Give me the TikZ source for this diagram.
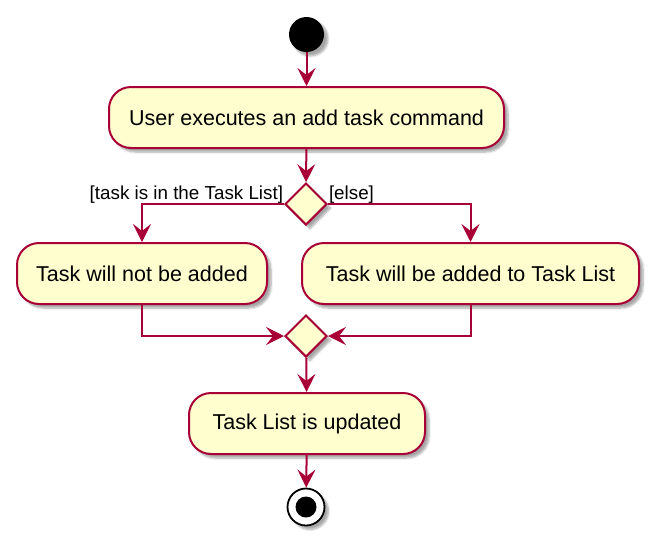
\documentclass[tikz,border=0pt]{standalone}
\usepackage{fontspec}
\setmainfont{Liberation Sans}
\usepackage{tikz}
\usetikzlibrary{shapes.geometric, arrows.meta, shadows.blur}

\definecolor{umlred}{HTML}{A80036}
\definecolor{umlfill}{HTML}{FEFECE}

\tikzset{
	umlshadow/.style={blur shadow={shadow xshift=4pt, shadow yshift=-4pt, shadow blur steps=6, shadow opacity=35}},
	action/.style={draw=umlred, fill=umlfill, line width=2pt, rounded corners=22pt, minimum height=61pt, inner sep=0pt, font=\fontsize{21.5}{26}\selectfont, umlshadow},
	branch/.style={diamond, draw=umlred, fill=umlfill, line width=2pt, minimum width=42pt, minimum height=42pt, inner sep=0pt, umlshadow},
	guard/.style={inner sep=0pt, font=\fontsize{18.8}{22}\selectfont},
	flow/.style={draw=umlred, line width=2pt, -{Stealth[length=18pt, width=18pt, inset=7pt]}},
	startdot/.style={circle, fill=black, minimum size=35pt, inner sep=0pt, umlshadow},
	stopdot/.style={circle, draw=black, fill=white, line width=1.8pt, minimum size=37pt, inner sep=0pt, umlshadow}
}

\begin{document}
\begin{tikzpicture}[x=1pt, y=-1pt]
		\useasboundingbox (0,0) rectangle (656,544);
		% nodes, in pixel positions
		\node[startdot] (start) at (306.5,34.5) {};
		\node[action, minimum width=395pt] (cmd) at (306.5,117.5) {User executes an add task command};
		\node[branch] (dec) at (306,204) {};
		\node[action, minimum width=250pt] (notadd) at (142,273.5) {Task will not be added};
		\node[action, minimum width=337pt] (added) at (470.5,273.5) {Task will be added to Task List};
		\node[branch] (merge) at (306,336) {};
		\node[action, minimum width=236pt] (updated) at (307,423.5) {Task List is updated};
		\node[stopdot] (stop) at (306,507) {};
		\fill (stop.center) circle (10.5pt);

		% flows
		\draw[flow] (start) -- (cmd);
		\draw[flow] (cmd) -- (dec);
		\draw[flow] (dec.west) -| node[guard, pos=0, anchor=south east] {[task is in the Task List]} (notadd);
		\draw[flow] (dec.east) -| node[guard, pos=0, anchor=south west] {[else]} (added);
		\draw[flow] (notadd.south) |- (merge.west);
		\draw[flow] (added.south) |- (merge.east);
		\draw[flow] (merge) -- (updated);
		\draw[flow] (updated) -- (stop);
	\end{tikzpicture}
\end{document}
